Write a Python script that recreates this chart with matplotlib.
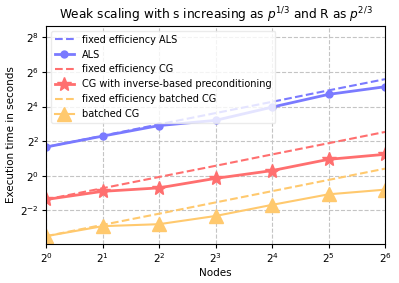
import matplotlib
matplotlib.use("Agg")
import matplotlib.pyplot as plt
from matplotlib.ticker import LogFormatterMathtext, NullLocator, FixedLocator

nodes = [1, 2, 4, 8, 16, 32, 64]

als = [3.16, 4.89, 7.46, 9.19, 15.6, 26.0, 35.3]
als_fixed = [3.16, 4.96, 7.84, 12.3, 19.3, 30.5, 47.8]

cg = [0.387, 0.536, 0.616, 0.901, 1.23, 1.93, 2.36]
cg_fixed = [0.387, 0.607, 0.953, 1.49, 2.35, 3.68, 5.78]

bcg = [0.089, 0.133, 0.144, 0.200, 0.312, 0.476, 0.574]
bcg_fixed = [0.089, 0.140, 0.219, 0.344, 0.540, 0.847, 1.33]

xticks = [1, 2, 4, 8, 16, 32, 64]
yticks = [0.25, 1, 4, 16, 64, 256]

blue = "#7a7aff"
red = "#ff6f6f"
orange = "#ffc96e"

fig = plt.figure(figsize=(3.99, 2.83), dpi=100)
ax = fig.add_axes([46/399, 1-244/283, (385-46)/399, (244-26)/283])

ax.plot(nodes, als_fixed, "--", color=blue, lw=1.5, label="fixed efficiency ALS")
ax.plot(nodes, als, "-", color=blue, lw=2, marker="o", ms=5, label="ALS")
ax.plot(nodes, cg_fixed, "--", color=red, lw=1.5, label="fixed efficiency CG")
ax.plot(nodes, cg, "-", color=red, lw=2, marker="*", ms=10, label="CG with inverse-based preconditioning")
ax.plot(nodes, bcg_fixed, "--", color=orange, lw=1.5, label="fixed efficiency batched CG")
ax.plot(nodes, bcg, "-", color=orange, lw=1.5, marker="^", ms=10, label="batched CG")

ax.set_xscale("log", base=2)
ax.set_yscale("log", base=2)
ax.set_xlim(1, 64)
ax.set_ylim(2**-3.94, 2**8.65)
ax.xaxis.set_major_locator(FixedLocator(xticks))
ax.yaxis.set_major_locator(FixedLocator(yticks))
ax.xaxis.set_minor_locator(NullLocator())
ax.yaxis.set_minor_locator(NullLocator())
ax.xaxis.set_major_formatter(LogFormatterMathtext(base=2))
ax.yaxis.set_major_formatter(LogFormatterMathtext(base=2))
ax.tick_params(labelsize=7.5, length=3, pad=2)
ax.grid(True, ls="--", color="#c4c4c4", lw=0.8)

ax.set_xlabel("Nodes", fontsize=7.5, labelpad=2)
ax.set_ylabel("Execution time in seconds", fontsize=7.5, labelpad=3)
ax.set_title(r"Weak scaling with s increasing as $p^{1/3}$ and R as $p^{2/3}$", fontsize=8.7, pad=5)
leg = ax.legend(loc="upper left", fontsize=7, framealpha=0.8)
leg.get_frame().set_edgecolor("#e6e6e6")

fig.savefig("out.png", dpi=100)
